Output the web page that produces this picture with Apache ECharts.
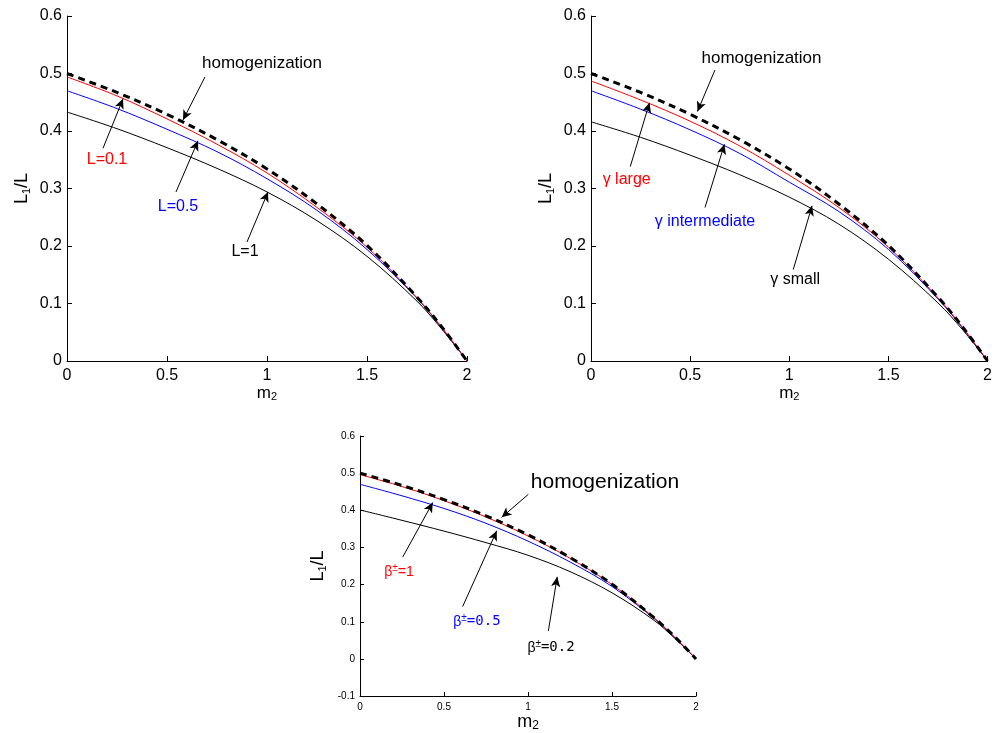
<!DOCTYPE html>
<html><head><meta charset="utf-8">
<script src="https://cdn.jsdelivr.net/npm/echarts@6/dist/echarts.min.js"></script>
<style>html,body{margin:0;padding:0;background:#fff}#c{width:995px;height:733px}</style>
</head><body><div id="c"></div>
<script>
// ---- data ----
const m2 = [0, 0.25, 0.5, 0.75, 1, 1.25, 1.5, 1.75, 1.875, 2];
const homog = [0.5, 0.467, 0.429, 0.385, 0.334, 0.273, 0.201, 0.111, 0.059, 0];
// panel A : L
const L01 = [0.494, 0.461, 0.421, 0.377, 0.327, 0.267, 0.198, 0.110, 0.058, 0];
const L05 = [0.470, 0.439, 0.403, 0.364, 0.317, 0.262, 0.194, 0.109, 0.057, 0];
const L1  = [0.433, 0.404, 0.371, 0.335, 0.294, 0.244, 0.182, 0.104, 0.055, 0];
// panel B : gamma
const gLarge = [0.487, 0.454, 0.417, 0.374, 0.323, 0.267, 0.198, 0.110, 0.058, 0];
const gInter = [0.470, 0.438, 0.402, 0.361, 0.311, 0.260, 0.194, 0.108, 0.057, 0];
const gSmall = [0.416, 0.389, 0.358, 0.324, 0.285, 0.238, 0.177, 0.101, 0.054, 0];
// panel C : beta
const b1  = [0.496, 0.464, 0.426, 0.382, 0.331, 0.271, 0.200, 0.111, 0.058, 0];
const b05 = [0.470, 0.439, 0.405, 0.365, 0.317, 0.261, 0.195, 0.109, 0.057, 0];
const b02 = [0.401, 0.373, 0.344, 0.313, 0.279, 0.235, 0.178, 0.104, 0.055, 0];
const xTicks = [0, 0.5, 1, 1.5, 2];
const yTicksTop = [0, 0.1, 0.2, 0.3, 0.4, 0.5, 0.6];
const yTicksBottom = [-0.1, 0, 0.1, 0.2, 0.3, 0.4, 0.5, 0.6];

// ---- chart ----
const FONT = '"Liberation Sans", Arial, Helvetica, sans-serif';
const MONO = '"DejaVu Sans Mono", "Liberation Mono", monospace';
const RED = '#ff0000', BLUE = '#0000ff', BLACK = '#000000';
const pairs = ys => m2.map((x, i) => [x, ys[i]]);

function arrow(p0, p1) { return [{ coord: p0 }, { coord: p1 }]; }

function lineSeries(idx, ys, color, extra) {
  return Object.assign({
    type: 'line', xAxisIndex: idx, yAxisIndex: idx, data: pairs(ys),
    showSymbol: false, symbol: 'none', smooth: 0.35, silent: true,
    lineStyle: { color: color, width: 1 }, z: 2
  }, extra || {});
}

function dashed(idx, arrows, labels) {
  return lineSeries(idx, homog, BLACK, {
    lineStyle: { color: BLACK, width: 3, type: [7, 5] }, z: 3,
    markLine: {
      silent: true, symbol: ['none', 'arrow'], symbolSize: [7, 10],
      lineStyle: { color: BLACK, width: 1, type: 'solid' },
      label: { show: false }, emphasis: { disabled: true },
      data: arrows.map(a => arrow(a[0], a[1]))
    },
    markPoint: {
      silent: true, symbol: 'circle', symbolSize: 0,
      data: labels.map(l => ({
        coord: l.at,
        label: Object.assign({ show: true, position: 'inside', formatter: l.text,
          color: l.color, fontSize: l.fs, fontFamily: FONT }, l.rich ? { rich: l.rich } : {})
      }))
    }
  });
}

function xAx(idx, fs, tickLen) {
  return {
    type: 'value', gridIndex: idx, min: 0, max: 2, interval: 0.5,
    name: 'm{s|2}', nameLocation: 'middle', nameGap: idx === 2 ? 14 : 15,
    nameTextStyle: { color: BLACK, fontFamily: FONT, fontSize: idx === 2 ? 18 : 17,
      rich: { s: { fontSize: idx === 2 ? 12 : 11, verticalAlign: 'bottom', padding: [8, 0, 0, 0], fontFamily: FONT } } },
    axisLine: { show: true, onZero: false, lineStyle: { color: BLACK, width: 1 } },
    axisTick: { show: true, inside: true, length: tickLen, lineStyle: { color: BLACK } },
    axisLabel: { color: BLACK, fontFamily: FONT, fontSize: fs, margin: idx === 2 ? 6 : 7,
      formatter: v => xTicks.indexOf(v) >= 0 ? String(v) : '' },
    splitLine: { show: false }
  };
}
function yAx(idx, fs, tickLen, min, ticks) {
  return {
    type: 'value', gridIndex: idx, min: min, max: 0.6, interval: 0.1,
    name: 'L{s|1}/L', nameLocation: 'middle', nameRotate: 90, nameGap: idx === 2 ? 32 : 35,
    nameTextStyle: { color: BLACK, fontFamily: FONT, fontSize: 18,
      rich: { s: { fontSize: 11, verticalAlign: 'bottom', padding: [8, 0, 0, 0], fontFamily: FONT } } },
    axisLine: { show: true, onZero: false, lineStyle: { color: BLACK, width: 1 } },
    axisTick: { show: true, inside: true, length: tickLen, lineStyle: { color: BLACK } },
    axisLabel: { color: BLACK, fontFamily: FONT, fontSize: fs, margin: 5,
      formatter: v => { const r = Math.round(v * 10) / 10; return ticks.indexOf(r) >= 0 ? String(r) : ''; } },
    splitLine: { show: false }
  };
}

const betaRich = col => ({
  a: { fontSize: 14, color: col, fontFamily: FONT, lineHeight: 18 },
  s: { fontSize: 10, color: col, fontFamily: FONT, verticalAlign: 'top', lineHeight: 10 },
  n: { fontSize: 14, color: col, fontFamily: MONO, lineHeight: 18 }
});

const option = {
  animation: false,
  backgroundColor: '#ffffff',
  grid: [
    { left: 67, top: 16, width: 400, height: 345 },
    { left: 591, top: 16, width: 400, height: 345 },
    { left: 360, top: 436, width: 336, height: 263 }
  ],
  xAxis: [xAx(0, 16, 5), xAx(1, 16, 5), xAx(2, 10, 4)],
  yAxis: [yAx(0, 16, 5, 0, yTicksTop), yAx(1, 16, 5, 0, yTicksTop), yAx(2, 10, 4, -0.1, yTicksBottom)],
  series: [
    // panel A
    lineSeries(0, L1, BLACK), lineSeries(0, L05, BLUE), lineSeries(0, L01, RED),
    dashed(0, [
      [[0.69, 0.494], [0.58, 0.419]],
      [[0.18, 0.370], [0.28, 0.456]],
      [[0.545, 0.294], [0.655, 0.383]],
      [[0.90, 0.207], [1.005, 0.294]]
    ], [
      { at: [0.975, 0.518], text: 'homogenization', color: BLACK, fs: 17 },
      { at: [0.20, 0.350], text: 'L=0.1', color: RED, fs: 16 },
      { at: [0.555, 0.268], text: 'L=0.5', color: BLUE, fs: 16 },
      { at: [0.89, 0.191], text: 'L=1', color: BLACK, fs: 16 }
    ]),
    // panel B
    lineSeries(1, gSmall, BLACK), lineSeries(1, gInter, BLUE), lineSeries(1, gLarge, RED),
    dashed(1, [
      [[0.625, 0.506], [0.537, 0.434]],
      [[0.198, 0.338], [0.295, 0.449]],
      [[0.575, 0.267], [0.673, 0.377]],
      [[1.02, 0.159], [1.115, 0.270]]
    ], [
      { at: [0.86, 0.527], text: 'homogenization', color: BLACK, fs: 17 },
      { at: [0.18, 0.315], text: 'γ large', color: RED, fs: 16 },
      { at: [0.575, 0.243], text: 'γ intermediate', color: BLUE, fs: 16 },
      { at: [1.03, 0.141], text: 'γ small', color: BLACK, fs: 16 }
    ]),
    // panel C
    lineSeries(2, b02, BLACK), lineSeries(2, b05, BLUE), lineSeries(2, b1, RED),
    dashed(2, [
      [[1.002, 0.443], [0.843, 0.381]],
      [[0.254, 0.274], [0.433, 0.421]],
      [[0.611, 0.141], [0.814, 0.345]],
      [[1.121, 0.075], [1.174, 0.221]]
    ], [
      { at: [1.458, 0.477], text: 'homogenization', color: BLACK, fs: 21 },
      { at: [0.232, 0.234], text: '{a|β}{s|±}{a|=1}', color: RED, fs: 14, rich: betaRich(RED) },
      { at: [0.696, 0.100], text: '{a|β}{s|±}{n|=0.5}', color: BLUE, fs: 14, rich: betaRich(BLUE) },
      { at: [1.137, 0.030], text: '{a|β}{s|±}{n|=0.2}', color: BLACK, fs: 14, rich: betaRich(BLACK) }
    ])
  ]
};

const chart = echarts.init(document.getElementById('c'), null, { renderer: 'canvas' });
chart.setOption(option);
</script>
</body></html>
